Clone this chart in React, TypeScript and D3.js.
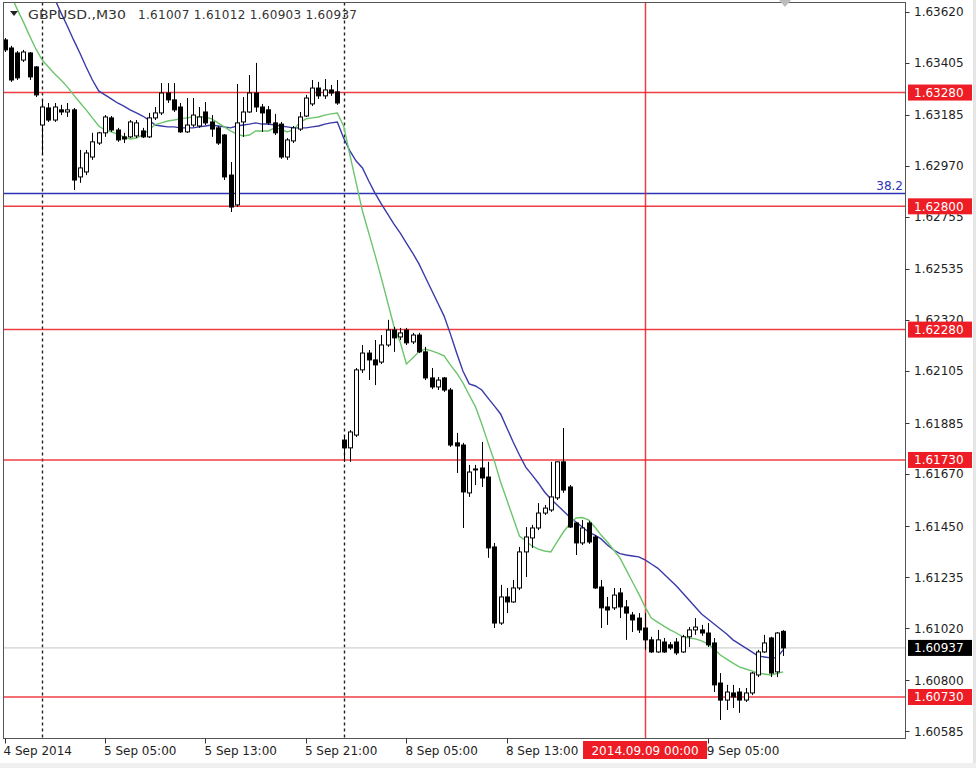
import React from 'react';
import * as d3 from 'd3';

// ---------- data ----------
const symbolTitle = "GBPUSD.,M30";
const titleValues = ["1.61007", "1.61012", "1.60903", "1.60937"];

const open = [
  1.63502, 1.63468, 1.63447, 1.63417, 1.63447, 1.63388, 1.63143, 1.63215, 1.63164, 1.63207,
  1.63198, 1.63207, 1.62924, 1.62945, 1.63008, 1.63067, 1.63110, 1.63173, 1.63122, 1.63093,
  1.63093, 1.63097, 1.63118, 1.63093, 1.63173, 1.63194, 1.63278, 1.63249, 1.63219, 1.63114,
  1.63143, 1.63139, 1.63198, 1.63156, 1.63131, 1.63101, 1.62932, 1.62806, 1.63156, 1.63198,
  1.63278, 1.63219, 1.63207, 1.63152, 1.63147, 1.63008, 1.63076, 1.63126, 1.63181, 1.63232,
  1.63299, 1.63266, 1.63291, 1.63283, 1.61814, 1.61781, 1.61835, 1.62110, 1.62181, 1.62152,
  1.62143, 1.62215, 1.62278, 1.62249, 1.62278, 1.62228, 1.62257, 1.62186, 1.62076, 1.62038,
  1.62076, 1.62025, 1.61802, 1.61793, 1.61591, 1.61688, 1.61696, 1.61658, 1.61363, 1.61042,
  1.61152, 1.61131, 1.61190, 1.61342, 1.61401, 1.61443, 1.61506, 1.61519, 1.61570, 1.61722,
  1.61616, 1.61464, 1.61380, 1.61464, 1.61405, 1.61194, 1.61110, 1.61106, 1.61169, 1.61110,
  1.61076, 1.61063, 1.61021, 1.60971, 1.60920, 1.60962, 1.60950, 1.60962, 1.60920, 1.60984,
  1.61013, 1.61013, 1.61000, 1.60958, 1.60789, 1.60717, 1.60747, 1.60751, 1.60717, 1.60747,
  1.60823, 1.60920, 1.60979, 1.60836, 1.61007,
];
const high = [
  1.63510, 1.63477, 1.63455, 1.63460, 1.63451, 1.63392, 1.63249, 1.63236, 1.63236, 1.63228,
  1.63236, 1.63215, 1.63038, 1.63038, 1.63110, 1.63114, 1.63185, 1.63181, 1.63131, 1.63110,
  1.63164, 1.63164, 1.63131, 1.63194, 1.63219, 1.63320, 1.63320, 1.63320, 1.63236, 1.63257,
  1.63257, 1.63219, 1.63240, 1.63185, 1.63139, 1.63105, 1.62987, 1.63316, 1.63261, 1.63354,
  1.63405, 1.63232, 1.63223, 1.63190, 1.63156, 1.63088, 1.63139, 1.63198, 1.63270, 1.63333,
  1.63325, 1.63337, 1.63312, 1.63333, 1.61835, 1.61856, 1.62118, 1.62215, 1.62194, 1.62236,
  1.62257, 1.62321, 1.62291, 1.62287, 1.62287, 1.62266, 1.62266, 1.62207, 1.62118, 1.62080,
  1.62080, 1.62034, 1.61844, 1.61802, 1.61709, 1.61709, 1.61806, 1.61722, 1.61380, 1.61203,
  1.61190, 1.61224, 1.61363, 1.61447, 1.61456, 1.61548, 1.61540, 1.61722, 1.61722, 1.61865,
  1.61624, 1.61468, 1.61477, 1.61473, 1.61413, 1.61224, 1.61152, 1.61190, 1.61190, 1.61139,
  1.61089, 1.61084, 1.61084, 1.60984, 1.61013, 1.60979, 1.60962, 1.60979, 1.60992, 1.61025,
  1.61063, 1.61034, 1.61042, 1.60979, 1.60831, 1.60781, 1.60781, 1.60768, 1.60768, 1.60836,
  1.60929, 1.60992, 1.60984, 1.61004, 1.61012,
];
const low = [
  1.63451, 1.63325, 1.63333, 1.63409, 1.63333, 1.63261, 1.63017, 1.63156, 1.63156, 1.63185,
  1.63177, 1.62869, 1.62899, 1.62932, 1.62996, 1.63059, 1.63093, 1.63114, 1.63072, 1.63067,
  1.63088, 1.63088, 1.63088, 1.63088, 1.63164, 1.63185, 1.63236, 1.63198, 1.63110, 1.63110,
  1.63135, 1.63131, 1.63143, 1.63093, 1.63059, 1.62911, 1.62776, 1.62797, 1.63093, 1.63194,
  1.63198, 1.63114, 1.63143, 1.63101, 1.63000, 1.62996, 1.63067, 1.63118, 1.63177, 1.63223,
  1.63253, 1.63253, 1.63266, 1.63228, 1.61722, 1.61722, 1.61827, 1.62097, 1.62067, 1.62046,
  1.62135, 1.62207, 1.62186, 1.62236, 1.62215, 1.62219, 1.62181, 1.62067, 1.62029, 1.62025,
  1.62017, 1.61785, 1.61675, 1.61443, 1.61574, 1.61624, 1.61616, 1.61317, 1.61021, 1.61034,
  1.61084, 1.61127, 1.61181, 1.61236, 1.61359, 1.61434, 1.61498, 1.61511, 1.61561, 1.61591,
  1.61443, 1.61329, 1.61371, 1.61376, 1.61186, 1.61021, 1.61034, 1.61097, 1.61063, 1.60971,
  1.61004, 1.61000, 1.60929, 1.60916, 1.60916, 1.60916, 1.60929, 1.60907, 1.60916, 1.60941,
  1.60992, 1.60988, 1.60941, 1.60751, 1.60633, 1.60675, 1.60684, 1.60663, 1.60709, 1.60738,
  1.60814, 1.60916, 1.60814, 1.60814, 1.60903,
];
const close = [
  1.63460, 1.63333, 1.63342, 1.63451, 1.63346, 1.63270, 1.63219, 1.63164, 1.63219, 1.63198,
  1.63207, 1.62911, 1.62962, 1.63025, 1.63072, 1.63110, 1.63177, 1.63122, 1.63080, 1.63084,
  1.63156, 1.63152, 1.63093, 1.63173, 1.63194, 1.63278, 1.63249, 1.63207, 1.63114, 1.63143,
  1.63185, 1.63177, 1.63152, 1.63126, 1.63067, 1.62924, 1.62797, 1.63152, 1.63198, 1.63278,
  1.63219, 1.63194, 1.63152, 1.63110, 1.63008, 1.63080, 1.63131, 1.63177, 1.63257, 1.63299,
  1.63266, 1.63291, 1.63278, 1.63236, 1.61781, 1.61848, 1.62110, 1.62181, 1.62152, 1.62131,
  1.62215, 1.62278, 1.62245, 1.62266, 1.62224, 1.62257, 1.62186, 1.62076, 1.62038, 1.62067,
  1.62025, 1.61793, 1.61789, 1.61595, 1.61679, 1.61692, 1.61654, 1.61359, 1.61042, 1.61152,
  1.61131, 1.61190, 1.61342, 1.61405, 1.61443, 1.61506, 1.61527, 1.61574, 1.61722, 1.61603,
  1.61447, 1.61380, 1.61443, 1.61384, 1.61190, 1.61106, 1.61097, 1.61160, 1.61110, 1.61084,
  1.61055, 1.61013, 1.60971, 1.60920, 1.60971, 1.60920, 1.60937, 1.60916, 1.60984, 1.61013,
  1.61025, 1.61000, 1.60950, 1.60781, 1.60717, 1.60751, 1.60730, 1.60717, 1.60747, 1.60831,
  1.60920, 1.60958, 1.60831, 1.61000, 1.60937,
];

// moving averages as drawn (green = fast, blue = slow)
const maFast = [
  1.63747, 1.63692, 1.63633, 1.63578, 1.63519, 1.63464, 1.63417, 1.63388, 1.63358, 1.63333,
  1.63304, 1.63270, 1.63238, 1.63207, 1.63173, 1.63139, 1.63122, 1.63114, 1.63105, 1.63093,
  1.63084, 1.63088, 1.63101, 1.63122, 1.63145, 1.63152, 1.63160, 1.63164, 1.63169, 1.63173,
  1.63177, 1.63177, 1.63177, 1.63169, 1.63152, 1.63135, 1.63118, 1.63105, 1.63097, 1.63101,
  1.63118, 1.63118, 1.63118, 1.63131, 1.63126, 1.63114, 1.63122, 1.63152, 1.63169, 1.63173,
  1.63177, 1.63185, 1.63190, 1.63194, 1.63139, 1.63017, 1.62899, 1.62780, 1.62688, 1.62595,
  1.62498, 1.62397, 1.62295, 1.62228, 1.62135, 1.62160, 1.62186, 1.62198, 1.62190, 1.62181,
  1.62169, 1.62131, 1.62097, 1.62055, 1.62004, 1.61954, 1.61882, 1.61802, 1.61726, 1.61637,
  1.61561, 1.61485, 1.61409, 1.61388, 1.61367, 1.61354, 1.61346, 1.61342, 1.61384, 1.61426,
  1.61460, 1.61485, 1.61487, 1.61477, 1.61447, 1.61413, 1.61384, 1.61350, 1.61317, 1.61266,
  1.61215, 1.61165, 1.61110, 1.61063, 1.61046, 1.61029, 1.61013, 1.61000, 1.60984, 1.60979,
  1.60975, 1.60967, 1.60954, 1.60933, 1.60907, 1.60890, 1.60873, 1.60857, 1.60848, 1.60840,
  1.60831, 1.60827, 1.60823, 1.60829, 1.60836,
];
const maSlow = [
  1.64126, 1.64071, 1.64012, 1.63958, 1.63898, 1.63844, 1.63785, 1.63730, 1.63675, 1.63616,
  1.63561, 1.63502, 1.63447, 1.63388, 1.63333, 1.63287, 1.63270, 1.63253, 1.63236, 1.63223,
  1.63207, 1.63194, 1.63181, 1.63164, 1.63143, 1.63139, 1.63135, 1.63135, 1.63131, 1.63131,
  1.63131, 1.63135, 1.63139, 1.63143, 1.63139, 1.63135, 1.63131, 1.63139, 1.63143, 1.63147,
  1.63152, 1.63147, 1.63147, 1.63143, 1.63139, 1.63135, 1.63131, 1.63131, 1.63131, 1.63135,
  1.63139, 1.63147, 1.63152, 1.63156, 1.63088, 1.63034, 1.62991, 1.62962, 1.62907, 1.62856,
  1.62810, 1.62768, 1.62726, 1.62688, 1.62645, 1.62603, 1.62557, 1.62502, 1.62447, 1.62392,
  1.62337, 1.62262, 1.62181, 1.62105, 1.62051, 1.62042, 1.62025, 1.61991, 1.61958, 1.61924,
  1.61865, 1.61806, 1.61751, 1.61700, 1.61667, 1.61633, 1.61595, 1.61565, 1.61540, 1.61515,
  1.61489, 1.61468, 1.61447, 1.61426, 1.61413, 1.61397, 1.61371, 1.61350, 1.61335, 1.61329,
  1.61325, 1.61321, 1.61308, 1.61291, 1.61274, 1.61249, 1.61224, 1.61198, 1.61169, 1.61139,
  1.61110, 1.61080, 1.61059, 1.61038, 1.61017, 1.60996, 1.60971, 1.60954, 1.60937, 1.60920,
  1.60903, 1.60899, 1.60895, 1.60895, 1.60929,
];

const priceTicks = [
  1.63620, 1.63405, 1.63185, 1.62970, 1.62755, 1.62535, 1.62320, 1.62105,
  1.61885, 1.61670, 1.61450, 1.61235, 1.61020, 1.60800, 1.60585,
];
const levelLines = [1.63280, 1.62800, 1.62280, 1.61730, 1.60730];
const fibLevel = 1.62854;
const fibLabel = "38.2";
const bidPrice = 1.60937;

const timeTickBars = [0, 16, 32, 48, 64, 80, 112];
const timeTickLabels = [
  "4 Sep 2014", "5 Sep 05:00", "5 Sep 13:00", "5 Sep 21:00",
  "8 Sep 05:00", "8 Sep 13:00", "9 Sep 05:00",
];
const separatorBars = [6, 54];
const crosshairBar = 102;
const crosshairLabel = "2014.09.09 00:00";

// ---------- chart ----------
const FONT = "'DejaVu Sans', Verdana, sans-serif";

export default function App() {
  const W = 976;
  const H = 768;
  const L = 3.5, R = 905.5, T = 2.5, B = 738.5;

  const x = d3.scaleLinear().domain([0, open.length - 1]).range([4.5, 783.2]);
  const y = d3.scaleLinear().domain([1.60557, 1.63662]).range([738, 2]);
  const fmt = d3.format(".5f");

  const lineGen = d3
    .line<number>()
    .x((_, i) => x(i))
    .y((d) => y(d));

  const crisp = (v: number) => Math.round(v) + 0.5;
  const red = "#ee1c24";
  const textColor = "#1e1e1e";

  return (
    <svg
      width={W}
      height={H}
      style={{ position: "absolute", left: 0, top: 0, background: "#fff" }}
      fontFamily={FONT}
    >
      <defs>
        <clipPath id="plotClip">
          <rect x={L} y={T} width={R - L} height={B - T} />
        </clipPath>
      </defs>
      <rect x={0} y={0} width={W} height={H} fill="#fff" />
      <rect x={973} y={0} width={3} height={H} fill="#e6e6e6" />
      <rect x={0} y={763} width={W} height={5} fill="#f0f0f0" />

      <g clipPath="url(#plotClip)">
        {/* period separators */}
        {separatorBars.map((b) => (
          <line
            key={"sep" + b}
            x1={crisp(x(b))}
            x2={crisp(x(b))}
            y1={T}
            y2={B}
            stroke="#222"
            strokeWidth={1.4}
            strokeDasharray="3,3"
          />
        ))}

        {/* horizontal red levels */}
        {levelLines.map((p) => (
          <line
            key={"lvl" + p}
            x1={L}
            x2={R}
            y1={y(p)}
            y2={y(p)}
            stroke={red}
            strokeWidth={1.5}
            opacity={0.85}
          />
        ))}

        {/* fibo level */}
        <line x1={L} x2={R} y1={y(fibLevel)} y2={y(fibLevel)} stroke="#2c34b8" strokeWidth={1.4} />

        {/* bid line */}
        <line x1={L} x2={R} y1={y(bidPrice)} y2={y(bidPrice)} stroke="#c4c4c4" strokeWidth={1} />

        {/* crosshair vertical line */}
        <line
          x1={crisp(x(crosshairBar))}
          x2={crisp(x(crosshairBar))}
          y1={T}
          y2={B}
          stroke={red}
          strokeWidth={1.5}
          opacity={0.85}
        />

        {/* moving averages */}
        <path d={lineGen(maSlow) || ""} fill="none" stroke="#3a3aa8" strokeWidth={1.4} />
        <path d={lineGen(maFast) || ""} fill="none" stroke="#6cc46c" strokeWidth={1.4} />

        {/* candles */}
        {open.map((o, i) => {
          const c = close[i];
          const cx = crisp(x(i));
          const yo = y(o);
          const yc = y(c);
          const top = Math.min(yo, yc);
          const h = Math.max(Math.abs(yo - yc), 1);
          const bull = c >= o;
          return (
            <g key={"c" + i}>
              <line x1={cx} x2={cx} y1={y(high[i])} y2={y(low[i])} stroke="#000" strokeWidth={1} />
              <rect
                x={cx - 2}
                y={top}
                width={4}
                height={h}
                fill={bull ? "#fff" : "#000"}
                stroke="#000"
                strokeWidth={1}
              />
            </g>
          );
        })}
      </g>

      {/* fibo label */}
      <text x={903} y={y(fibLevel) - 4} fontSize={12} fill="#2c34b8" textAnchor="end">
        {fibLabel}
      </text>

      {/* frame */}
      <rect x={L} y={T} width={R - L} height={B - T} fill="none" stroke="#555" strokeWidth={1} />

      {/* title */}
      <polygon points="10,11 18,11 14,16" fill="#222" />
      <text x={28} y={19} fontSize={12} fill="#333" textLength={98} lengthAdjust="spacingAndGlyphs">
        {symbolTitle}
      </text>
      <text x={138} y={19} fontSize={12} fill="#333" textLength={219} lengthAdjust="spacing">
        {titleValues.join(" ")}
      </text>

      {/* shift marker */}
      <polygon points="779,0 791,0 785,7" fill="#bdbdbd" />

      {/* price axis */}
      {priceTicks.map((p) => (
        <g key={"pt" + p}>
          <line x1={R} x2={R + 4} y1={crisp(y(p))} y2={crisp(y(p))} stroke="#333" />
          <text x={914} y={y(p)} dy="0.36em" fontSize={12} fill={textColor}>
            {fmt(p)}
          </text>
        </g>
      ))}
      {levelLines.map((p) => (
        <g key={"pl" + p}>
          <rect x={908} y={y(p) - 8} width={64} height={16} fill={red} />
          <text x={914} y={y(p)} dy="0.36em" fontSize={12} fill="#fff">
            {fmt(p)}
          </text>
        </g>
      ))}
      <rect x={908} y={y(bidPrice) - 8} width={64} height={16} fill="#000" />
      <text x={914} y={y(bidPrice)} dy="0.36em" fontSize={12} fill="#fff">
        {fmt(bidPrice)}
      </text>

      {/* time axis */}
      {timeTickBars.map((b, k) => (
        <g key={"tt" + b}>
          <line x1={crisp(x(b))} x2={crisp(x(b))} y1={B} y2={B + 5} stroke="#333" />
          <text x={x(b) - 1} y={755} fontSize={12} fill={textColor}>
            {timeTickLabels[k]}
          </text>
        </g>
      ))}
      <rect x={x(crosshairBar) - 62} y={741} width={124} height={18} fill={red} />
      <text x={x(crosshairBar)} y={755} fontSize={12} fill="#fff" textAnchor="middle">
        {crosshairLabel}
      </text>
    </svg>
  );
}
